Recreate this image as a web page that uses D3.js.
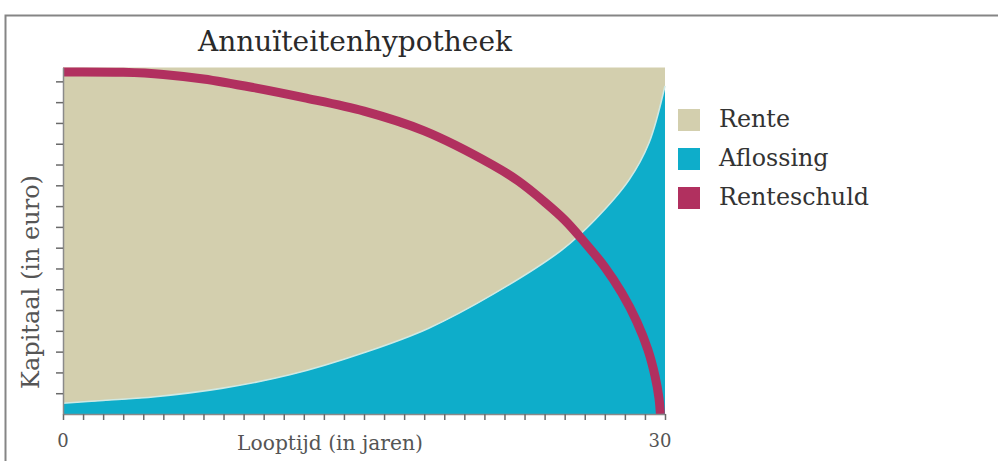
<!DOCTYPE html>
<html><head><meta charset="utf-8">
<script src="https://cdn.jsdelivr.net/npm/d3@7"></script>
<style>html,body{margin:0;padding:0;background:#fff;}svg{display:block;}</style>
</head><body>
<svg id="chart" width="998" height="461"></svg>
<script>
// ---- data (capital as % of the yearly annuity) ----
const title = "Annuïteitenhypotheek";
const yearsArea = [0, 2, 4.6, 7.9, 11.3, 15.1, 18.2, 21.5, 24.85, 26.5, 28.2, 29.2, 30];
const aflossing = [3.1, 3.9, 5.0, 7.4, 11.3, 17.9, 24.7, 34.8, 47.3, 56.0, 67.5, 78.2, 94.7];
const rente     = [96.9, 96.1, 95.0, 92.6, 88.7, 82.1, 75.3, 65.2, 52.7, 44.0, 32.5, 21.8, 5.3];
const yearsSchuld = [0, 3, 5, 7, 9.5, 12, 15, 18, 21.4, 22.7, 24, 25, 25.9, 27, 27.85, 28.6, 29.15, 29.5, 29.7, 29.77];
const renteschuld = [98.7, 98.6, 98.0, 96.7, 94.2, 91.3, 87.4, 81.7, 71.9, 67.2, 61.2, 56.0, 50.2, 42.4, 34.9, 26.6, 18.5, 11.0, 4.6, 0];
const xTicks = d3.range(0, 31);
const xTickLabels = [0, 30];
const yTicks = [6, 12, 18, 24, 30, 36, 42, 48, 54, 60, 66, 72, 78, 84, 90, 96];
const legendItems = ["Rente", "Aflossing", "Renteschuld"];
const xTitle = "Looptijd (in jaren)";
const yTitle = "Kapitaal (in euro)";

const colors = {Rente: "#d3cfae", Aflossing: "#0eadca", Renteschuld: "#b1305f"};
const serif = "'DejaVu Serif', 'Liberation Serif', serif";

const svg = d3.select("#chart");
const plot = {left: 63, right: 665, top: 67.5, bottom: 414};
const x = d3.scaleLinear().domain([0, 30]).range([plot.left, plot.right]);
const y = d3.scaleLinear().domain([0, 100]).range([plot.bottom, plot.top]);
const curve = d3.curveCatmullRom.alpha(0.5);

function fit(sel, target) {
  let fs = parseFloat(sel.attr("font-size"));
  const w = sel.node().getComputedTextLength();
  sel.attr("font-size", (fs * target / w).toFixed(2));
}

// frame
svg.append("path").attr("d", "M5.5,461 V15.5 H998").attr("fill", "none")
  .attr("stroke", "#858585").attr("stroke-width", 2);

// stacked areas
const table = yearsArea.map((t, i) => ({t, Aflossing: aflossing[i], Rente: rente[i]}));
const stack = d3.stack().keys(["Aflossing", "Rente"])(table);
const area = d3.area().x(d => x(d.data.t)).y0(d => y(d[0])).y1(d => y(d[1])).curve(curve);
svg.append("g").selectAll("path").data(stack).join("path")
  .attr("d", area).attr("fill", d => colors[d.key]);
// light seam between the two areas
svg.append("path")
  .attr("d", d3.line().x((t) => x(t)).y((t, i) => y(aflossing[i])).curve(curve)(yearsArea))
  .attr("fill", "none").attr("stroke", "#cfe9e4").attr("stroke-width", 1.6);

// renteschuld line
const schuldLine = d3.line().x((t) => x(t)).y((t, i) => y(renteschuld[i])).curve(curve);
svg.append("path").attr("d", schuldLine(yearsSchuld))
  .attr("fill", "none").attr("stroke", colors.Renteschuld).attr("stroke-width", 9);

// axes
const xAxis = svg.append("g").attr("transform", `translate(0,${plot.bottom})`)
  .call(d3.axisBottom(x).tickValues(xTicks).tickSize(6).tickSizeOuter(0).tickFormat(""));
const yAxis = svg.append("g").attr("transform", `translate(${plot.left},0)`)
  .call(d3.axisLeft(y).tickValues(yTicks).tickSize(7).tickSizeOuter(0).tickFormat(""));
[xAxis, yAxis].forEach(g => {
  g.selectAll("line").attr("stroke", "#6a6a6a").attr("stroke-width", 1.5);
  g.select(".domain").attr("stroke", "#8a8a8a").attr("stroke-width", 1.5);
});

// x tick labels
svg.append("g").selectAll("text").data(xTickLabels).join("text")
  .attr("x", d => x(d) - (d === 30 ? 5 : 0)).attr("y", 447).attr("text-anchor", "middle")
  .attr("font-family", serif).attr("font-size", 18).attr("fill", "#555").text(d => d);

// titles
const tt = svg.append("text").attr("x", 355).attr("y", 51).attr("text-anchor", "middle")
  .attr("font-family", serif).attr("font-size", 24).attr("fill", "#2a2a2a").text(title);
fit(tt, 314);
const xt = svg.append("text").attr("x", 330).attr("y", 450).attr("text-anchor", "middle")
  .attr("font-family", serif).attr("font-size", 18).attr("fill", "#555").text(xTitle);
fit(xt, 186);
const yt = svg.append("text").attr("transform", "translate(39,282) rotate(-90)").attr("text-anchor", "middle")
  .attr("font-family", serif).attr("font-size", 18).attr("fill", "#555").text(yTitle);
fit(yt, 214);

// legend
const lg = svg.append("g").selectAll("g").data(legendItems).join("g")
  .attr("transform", (d, i) => `translate(678,${109 + i * 39})`);
lg.append("rect").attr("width", 22).attr("height", 22).attr("fill", d => colors[d]);
lg.append("text").attr("x", 41).attr("y", 18).attr("font-family", serif).attr("font-size", 18)
  .attr("fill", "#333").text(d => d);
fit(lg.filter(d => d === "Renteschuld").select("text"), 150);
const lfs = lg.filter(d => d === "Renteschuld").select("text").attr("font-size");
lg.selectAll("text").attr("font-size", lfs);
</script>
</body></html>
